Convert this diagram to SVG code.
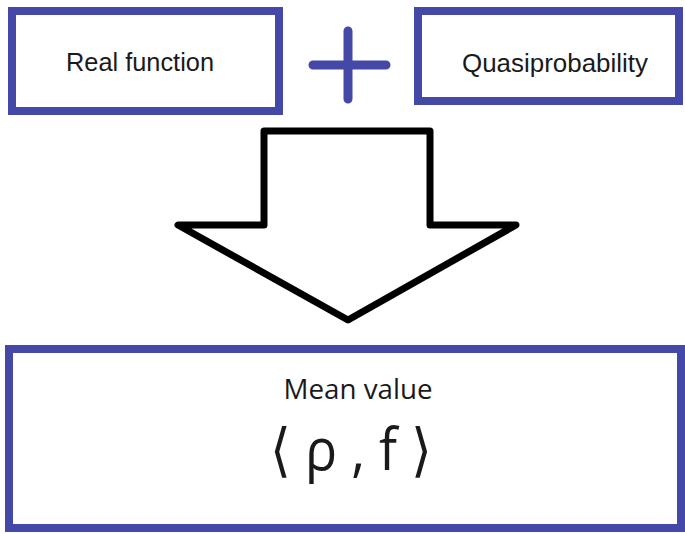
<svg xmlns="http://www.w3.org/2000/svg" width="685" height="534" viewBox="0 0 685 534">
<style>
.box{fill:#fff;stroke:#4449a8;stroke-width:8}
.lbl{font-family:"Liberation Sans",Arial,sans-serif;fill:#1a1a1a;text-anchor:middle}
.cal{font-family:"Open Sans","Noto Sans",sans-serif;fill:#1a1a1a;text-anchor:middle}
</style>
<rect width="685" height="534" fill="#fff"/>
<g id="real-function">
<rect class="box" x="12" y="11" width="267" height="100"/>
<text class="lbl" x="140" y="71" font-size="25" textLength="148" lengthAdjust="spacingAndGlyphs">Real function</text>
</g>
<g id="plus">
<path d="M313 65H386M348 31V99" stroke="#4449a8" stroke-width="9" stroke-linecap="round" fill="none"/>
</g>
<g id="quasiprobability">
<rect class="box" x="418" y="11" width="261" height="90"/>
<text class="lbl" x="555" y="72" font-size="25" textLength="186" lengthAdjust="spacingAndGlyphs">Quasiprobability</text>
</g>
<g id="connectors">
<path d="M264 131H430V225H516L348 320L178 225H264Z" fill="#fff" stroke="#000" stroke-width="7" stroke-linejoin="round"/>
</g>
<g id="mean-value">
<rect class="box" x="9" y="349" width="672" height="179"/>
<text class="cal" x="358" y="399" font-size="28" textLength="149" lengthAdjust="spacingAndGlyphs">Mean value</text>
<text class="cal" x="351" y="470" font-size="58" textLength="162" lengthAdjust="spacingAndGlyphs">⟨ ρ , f ⟩</text>
</g>
</svg>
